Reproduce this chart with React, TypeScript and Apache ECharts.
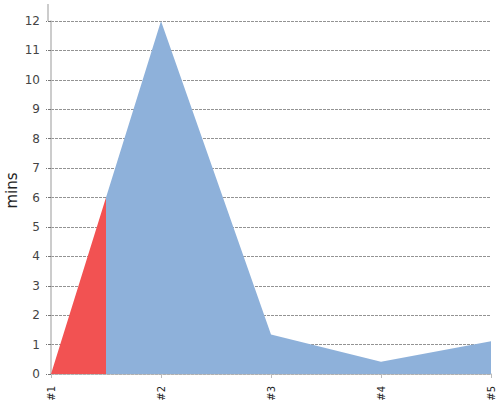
import React, { useEffect, useRef } from 'react'
import * as echarts from 'echarts'

const categories = ['#1', '#2', '#3', '#4', '#5']
const values = [0, 12, 1.34, 0.42, 1.11]
const yTicks = { min: 0, max: 12, interval: 1 }

export default function App() {
    const chartRef = useRef<HTMLDivElement>(null)

    useEffect(() => {
        const chart = echarts.init(chartRef.current, null, { renderer: 'svg' })
        chart.setOption({
            animation: false,
            textStyle: { fontFamily: 'DejaVu Sans' },
            grid: { left: 51, right: 9, top: 21, bottom: 26, outerBoundsMode: 'none', containLabel: false },
            visualMap: {
                show: false,
                type: 'piecewise',
                dimension: 0,
                pieces: [
                    { gte: -1, lt: 0.5, color: '#f25252' },
                    { gte: 0.5, lte: 5, color: '#8eb1da' },
                ],
                outOfRange: { color: '#8eb1da' },
            },
            xAxis: {
                type: 'value',
                min: 0,
                max: categories.length - 1,
                interval: 1,
                offset: 4,
                splitLine: { show: false },
                axisLine: { show: true, lineStyle: { color: '#bbb', width: 1.5 } },
                axisTick: { show: true, length: 4, lineStyle: { color: '#bbb' } },
                axisLabel: {
                    rotate: 90,
                    fontSize: 10,
                    color: '#222',
                    margin: 8,
                    formatter: (v: number) => categories[v] ?? '',
                },
            },
            yAxis: {
                type: 'value',
                ...yTicks,
                offset: 3,
                name: 'mins',
                nameLocation: 'middle',
                nameGap: 29,
                nameMoveOverlap: false,
                nameTextStyle: { fontSize: 15, color: '#222', padding: [0, 0, 0, 14] },
                axisLine: { show: true, lineStyle: { color: '#bbb', width: 1.5 } },
                axisTick: { show: true, length: 5, lineStyle: { color: '#777', type: [3, 1] } },
                axisLabel: { fontSize: 12, color: '#444', margin: 8 },
                splitLine: { lineStyle: { color: '#777', type: [3, 1], width: 0.8 } },
            },
            graphic: [
                {
                    type: 'line',
                    shape: { x1: 48, y1: 4, x2: 48, y2: 21 },
                    style: { stroke: '#bbb', lineWidth: 1.5 },
                },
            ],
            series: [
                {
                    type: 'line',
                    data: values.map((v, i) => [i, v]),
                    symbol: 'none',
                    lineStyle: { width: 0 },
                    areaStyle: { opacity: 1 },
                },
            ],
        })
        return () => chart.dispose()
    }, [])

    return <div ref={chartRef} style={{ width: 500, height: 400, position: 'absolute', left: 0, top: 0 }} />
}
